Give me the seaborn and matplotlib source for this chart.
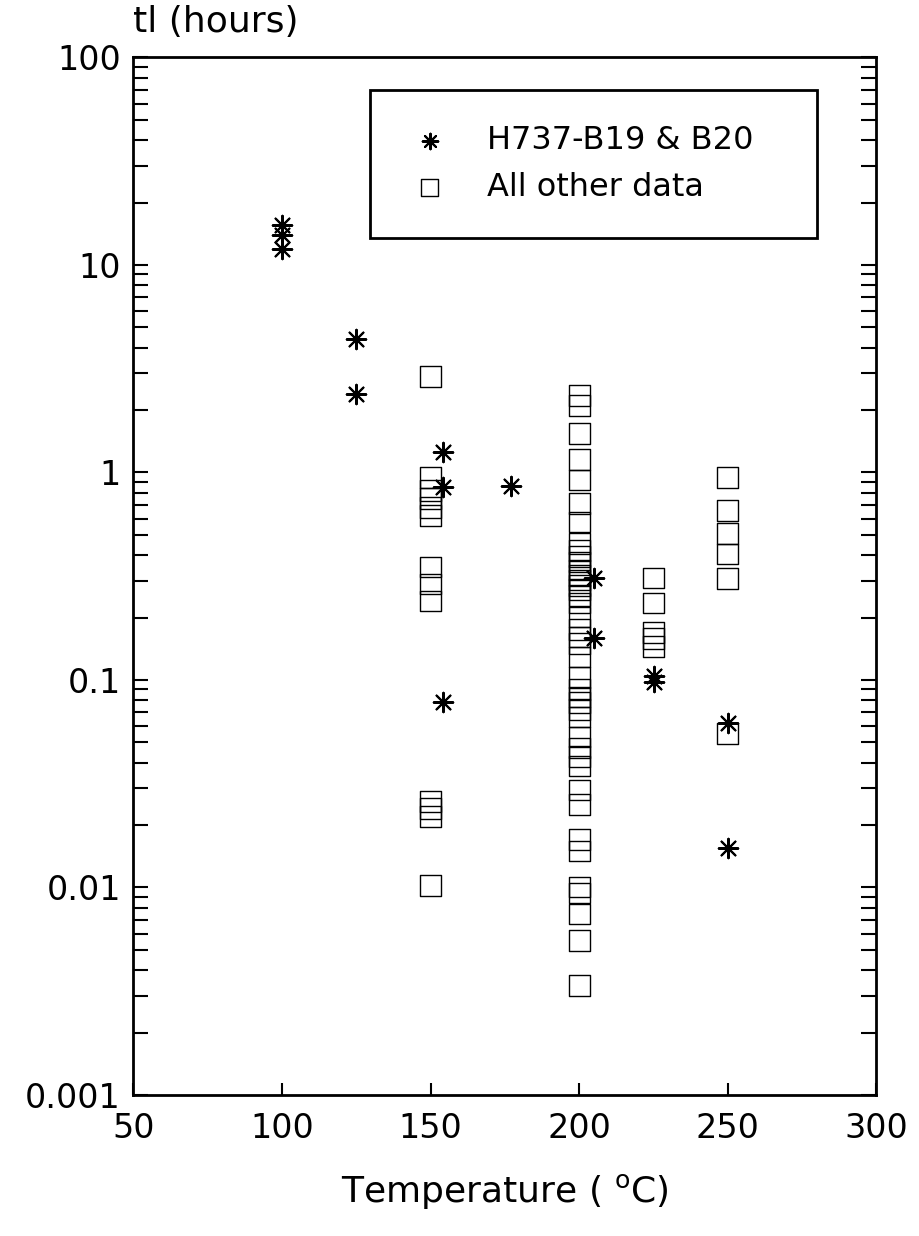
import numpy as np
import pandas as pd
import matplotlib
matplotlib.use("Agg")
import matplotlib.pyplot as plt
import seaborn as sns
from matplotlib.ticker import LogLocator, FuncFormatter, NullFormatter, FixedLocator

# ---------------- data ----------------
star_temp = [100, 100, 100, 125, 125, 154, 154, 154, 177, 205, 205, 225, 225, 250, 250]
star_time = [15.5, 14.0, 12.0, 4.4, 2.4, 1.25, 0.85, 0.078, 0.86, 0.31, 0.16,
             0.105, 0.098, 0.062, 0.0155]

sq150_time = [2.9, 0.95, 0.82, 0.75, 0.68, 0.62, 0.35, 0.29, 0.24,
              0.026, 0.024, 0.022, 0.0102]
sq200_time = [2.36, 2.10, 1.54, 1.15, 0.92, 0.71, 0.577, 0.456, 0.42, 0.393,
              0.37, 0.339, 0.32, 0.303, 0.285, 0.272, 0.255, 0.235, 0.201,
              0.175, 0.161, 0.15, 0.129, 0.103, 0.09, 0.0828, 0.078, 0.072,
              0.0663, 0.0531, 0.047, 0.0426, 0.0385, 0.0295, 0.0252, 0.0171,
              0.0150, 0.01005, 0.0094, 0.00745, 0.00555, 0.00336]
sq225_time = [0.31, 0.235, 0.17, 0.158, 0.145]
sq250_time = [0.95, 0.655, 0.506, 0.405, 0.307, 0.055]

x_ticks = [50, 100, 150, 200, 250, 300]
star_label = "H737-B19 & B20"
square_label = "All other data"

sq_temp = ([150] * len(sq150_time) + [200] * len(sq200_time)
           + [225] * len(sq225_time) + [250] * len(sq250_time))
sq_time = sq150_time + sq200_time + sq225_time + sq250_time

df_star = pd.DataFrame({"temp": star_temp, "time": star_time})
df_sq = pd.DataFrame({"temp": sq_temp, "time": sq_time})

# ---------------- style ----------------
sns.set_style("ticks")
plt.rcParams["font.family"] = ["DejaVu Sans"]
plt.rcParams["mathtext.fontset"] = "dejavusans"
for k in ["text.color", "axes.labelcolor", "xtick.color", "ytick.color",
          "axes.edgecolor"]:
    plt.rcParams[k] = "black"

fig = plt.figure(figsize=(9.2, 12.36), dpi=100)
ax = fig.add_axes([0.1451, 0.1141, 0.8076, 0.8394])

sns.scatterplot(data=df_sq, x="temp", y="time", marker="s", s=15 ** 2,
                facecolor="none", edgecolor="black", linewidth=1.0,
                ax=ax, label=square_label, zorder=3)
sns.scatterplot(data=df_star, x="temp", y="time", marker=(8, 2, 0), s=14 ** 2,
                color="black", linewidth=1.5, ax=ax, label=star_label, zorder=4)

ax.set_yscale("log")
ax.set_xlim(50, 300)
ax.set_ylim(1e-3, 100)
ax.xaxis.set_major_locator(FixedLocator(x_ticks))
ax.yaxis.set_major_locator(LogLocator(base=10, numticks=12))
ax.yaxis.set_minor_locator(LogLocator(base=10, subs=np.arange(2, 10), numticks=12))
ax.yaxis.set_major_formatter(FuncFormatter(lambda v, p: f"{v:g}"))
ax.yaxis.set_minor_formatter(NullFormatter())

ax.tick_params(axis="y", which="both", direction="in", left=True, right=True,
               length=11, width=1.5, labelsize=24, pad=9, colors="black")
ax.tick_params(axis="x", which="both", direction="in", bottom=True, top=False,
               length=9, width=1.5, labelsize=24, pad=12, colors="black")
for s in ax.spines.values():
    s.set_linewidth(2.0)
    s.set_color("black")

ax.set_xlabel("Temperature ( $^{\\mathrm{o}}$C)", fontsize=26, labelpad=20,
              color="black")
ax.set_ylabel("")
ax.text(0.0, 1.034, "tl (hours)", transform=ax.transAxes, ha="left",
        va="center", fontsize=26, color="black")

handles, labels = ax.get_legend_handles_labels()
order = [labels.index(star_label), labels.index(square_label)]
leg = ax.legend([handles[i] for i in order], [labels[i] for i in order],
                loc="upper left", bbox_to_anchor=(0.318, 0.5, 0.6016, 0.4687),
                mode="expand", borderaxespad=0.0, framealpha=1.0,
                fontsize=23, frameon=True, fancybox=False, edgecolor="black",
                borderpad=1.1, handlelength=1.56, handletextpad=1.0,
                labelspacing=0.5, markerscale=0.8)
leg.get_frame().set_linewidth(2.0)
leg.get_frame().set_edgecolor("black")
for t in leg.get_texts():
    t.set_color("black")

fig.savefig("out.png", dpi=100)
